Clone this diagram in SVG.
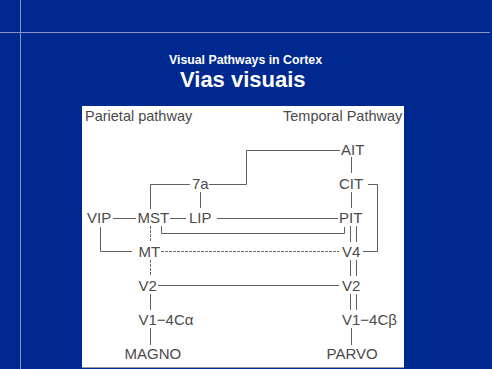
<svg xmlns="http://www.w3.org/2000/svg" width="492" height="369" viewBox="0 0 492 369">
<style>
.bg{fill:#00298F}
.frame{stroke:#8793c6;stroke-width:1;fill:none}
.title{font-family:"Liberation Sans",Arial,sans-serif;font-weight:bold;fill:#ffffff}
.head{font-family:"Liberation Sans",Arial,sans-serif;font-size:14.5px;fill:#4a4a4a}
.lbl{font-family:"Liberation Sans",Arial,sans-serif;font-size:15px;fill:#4a4a4a}
.c{stroke:#606060;stroke-width:1;fill:none}
.d{stroke:#6a6a6a;stroke-width:1;fill:none;stroke-dasharray:3 1}
</style>
<rect class="bg" x="0" y="0" width="492" height="369"/>
<line class="frame" x1="0" y1="32.5" x2="490" y2="32.5"/>
<line class="frame" x1="20.5" y1="0" x2="20.5" y2="369"/>
<text class="title" x="169" y="64" font-size="13.5" textLength="153" lengthAdjust="spacingAndGlyphs">Visual Pathways in Cortex</text>
<text class="title" x="180" y="87" font-size="22">Vias visuais</text>
<rect x="82" y="106" width="322" height="262" fill="#ffffff"/>
<line x1="82" y1="367.5" x2="404" y2="367.5" stroke="#9a9a9a" stroke-width="1"/>
<text class="head" x="85" y="121">Parietal pathway</text>
<text class="head" x="283" y="121">Temporal Pathway</text>
<g id="connectors">
<polyline class="c" points="209,184.5 246.5,184.5 246.5,150.5 340,150.5"/>
<polyline class="c" points="190,184.5 150.5,184.5 150.5,209"/>
<line class="c" x1="200.5" y1="192" x2="200.5" y2="208"/>
<line class="c" x1="113" y1="218.5" x2="136" y2="218.5"/>
<line class="c" x1="170" y1="218.5" x2="186" y2="218.5"/>
<line class="c" x1="217" y1="218.5" x2="338" y2="218.5"/>
<polyline class="c" points="161.5,226 161.5,233.5 344.5,233.5 344.5,227"/>
<polyline class="c" points="100.5,227 100.5,251.5 132,251.5"/>
<line class="d" x1="161" y1="251.5" x2="339" y2="251.5"/>
<polyline class="c" points="368,184.5 377.5,184.5 377.5,251.5 363,251.5"/>
<line class="d" x1="150.5" y1="226" x2="150.5" y2="242"/>
<line class="d" x1="150.5" y1="260" x2="150.5" y2="276"/>
<line class="c" x1="158" y1="285.5" x2="339" y2="285.5"/>
<line class="c" x1="150.5" y1="294" x2="150.5" y2="310"/>
<line class="c" x1="150.5" y1="328" x2="150.5" y2="345"/>
<line class="c" x1="351.5" y1="157" x2="351.5" y2="173"/>
<line class="c" x1="351.5" y1="192" x2="351.5" y2="208"/>
<line class="c" x1="350.5" y1="226" x2="350.5" y2="242"/>
<line class="c" x1="356.5" y1="226" x2="356.5" y2="242"/>
<line class="c" x1="350.5" y1="260" x2="350.5" y2="276"/>
<line class="c" x1="356.5" y1="260" x2="356.5" y2="276"/>
<line class="c" x1="350.5" y1="294" x2="350.5" y2="310"/>
<line class="c" x1="356.5" y1="294" x2="356.5" y2="310"/>
<line class="c" x1="351.5" y1="328" x2="351.5" y2="345"/>
</g>
<g id="AIT"><text class="lbl" x="341" y="155">AIT</text></g>
<g id="n7a"><text class="lbl" x="192" y="189">7a</text></g>
<g id="CIT"><text class="lbl" x="339" y="189">CIT</text></g>
<g id="VIP"><text class="lbl" x="87" y="223">VIP</text></g>
<g id="MST"><text class="lbl" x="137.5" y="223">MST</text></g>
<g id="LIP"><text class="lbl" x="189" y="223">LIP</text></g>
<g id="PIT"><text class="lbl" x="339" y="223">PIT</text></g>
<g id="MT"><text class="lbl" x="138.5" y="257">MT</text></g>
<g id="V4"><text class="lbl" x="342" y="257">V4</text></g>
<g id="V2m"><text class="lbl" x="138.5" y="291">V2</text></g>
<g id="V2p"><text class="lbl" x="342" y="291">V2</text></g>
<g id="V1m"><text class="lbl" x="138.5" y="325">V1−4Cα</text></g>
<g id="V1p"><text class="lbl" x="342" y="325">V1−4Cβ</text></g>
<g id="MAGNO"><text class="lbl" x="124.5" y="359">MAGNO</text></g>
<g id="PARVO"><text class="lbl" x="326.5" y="359">PARVO</text></g>
</svg>
